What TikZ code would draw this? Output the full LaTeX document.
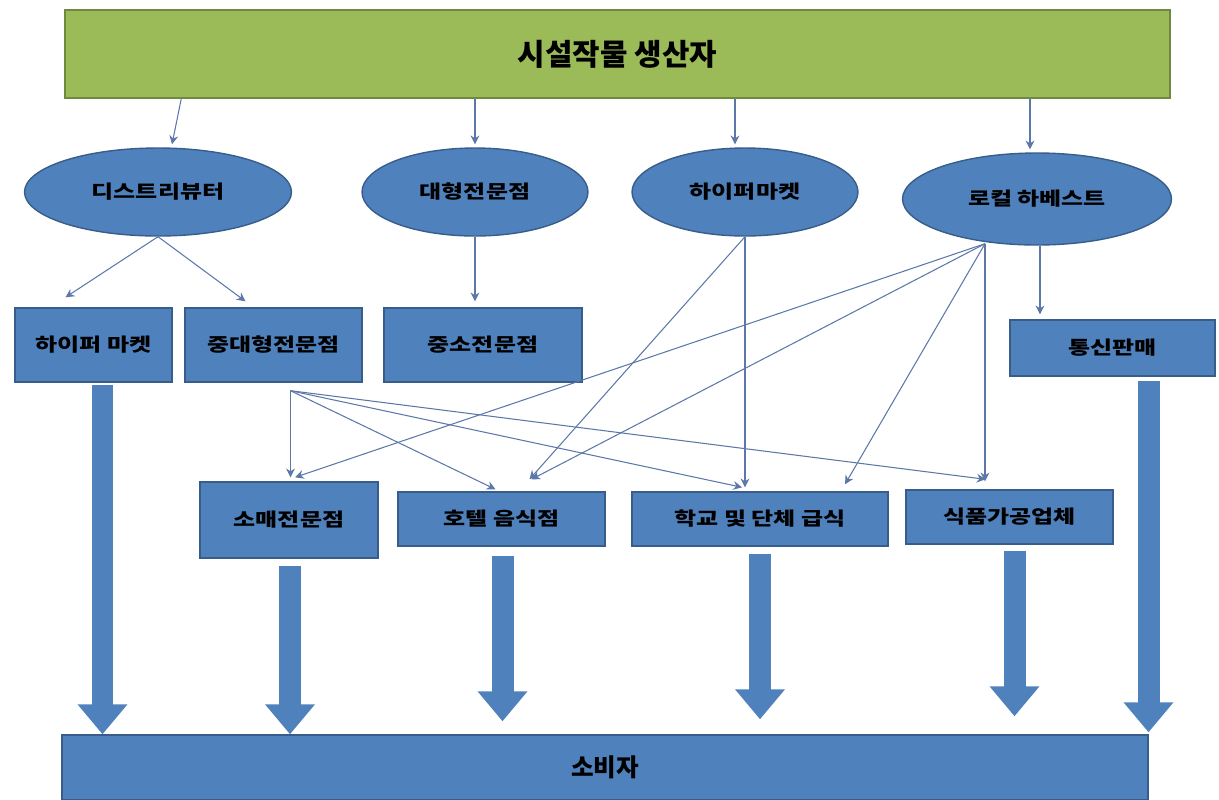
\documentclass[tikz,border=0pt]{standalone}
\usepackage{fontspec}
\setmainfont{Noto Sans CJK KR}
\newfontfamily\krwide[FakeStretch=1.3]{Noto Sans CJK KR}
\usetikzlibrary{shapes.geometric,arrows.meta,calc}

\definecolor{barGreen}{HTML}{9BBB59}
\definecolor{barEdge}{HTML}{71893F}
\definecolor{boxBlue}{HTML}{4F81BD}
\definecolor{boxEdge}{HTML}{385D8A}
\definecolor{flowLine}{HTML}{5B78A8}

\tikzset{
  unit/.style={draw=boxEdge, line width=0.8pt, fill=boxBlue, inner sep=0pt,
    text=black, font=\krwide\bfseries\fontsize{10.5}{12}\selectfont},
  oval/.style={unit, ellipse},
  flow/.style={draw=flowLine, line width=0.6pt, -{Stealth[length=5pt,width=5pt]}},
  bigarrow/.style={draw=boxBlue, line width=0.44cm, -{Triangle[width=0.96cm,length=0.6cm]}}
}

\begin{document}
\begin{tikzpicture}[x=0.02cm, y=-0.02cm]
  \useasboundingbox (0,0) rectangle (1219,799);

  % producer on top
  \node[draw=barEdge, line width=1pt, fill=barGreen, minimum width=22.1cm, minimum height=1.76cm,
    font=\bfseries\fontsize{17}{20}\selectfont] (top) at (617.5,54) {시설작물 생산자};

  % first channel
  \node[oval, minimum width=5.34cm, minimum height=1.76cm] (e1) at (158,192) {디스트리뷰터};
  \node[oval, minimum width=4.52cm, minimum height=1.76cm] (e2) at (475,192) {대형전문점};
  \node[oval, minimum width=4.52cm, minimum height=1.76cm] (e3) at (745,192) {하이퍼마켓};
  \node[oval, minimum width=5.38cm, minimum height=1.84cm] (e4) at (1037,199) {로컬 하베스트};

  % second channel
  \node[unit, minimum width=3.14cm, minimum height=1.48cm] (b1) at (93.5,345) {하이퍼 마켓};
  \node[unit, minimum width=3.54cm, minimum height=1.48cm] (b2) at (273.5,345) {중대형전문점};
  \node[unit, minimum width=3.96cm, minimum height=1.48cm] (b3) at (483,345) {중소전문점};
  \node[unit, minimum width=4.10cm, minimum height=1.12cm] (b4) at (1112.5,348) {통신판매};

  % third channel
  \node[unit, minimum width=3.56cm, minimum height=1.52cm] (c1) at (289,520) {소매전문점};
  \node[unit, minimum width=4.14cm, minimum height=1.08cm] (c2) at (501.5,519) {호텔 음식점};
  \node[unit, minimum width=5.12cm, minimum height=1.08cm] (c3) at (760,519) {학교 및 단체 급식};
  \node[unit, minimum width=4.14cm, minimum height=1.08cm] (c4) at (1009.5,517) {식품가공업체};

  % consumer
  \node[unit, minimum width=21.72cm, minimum height=1.3cm,
    font=\bfseries\fontsize{14}{16}\selectfont] (cons) at (605,767.5) {소비자};

  % producer to first channel
  \draw[flow] ($(top.south west)+(117,0)$) -- ($(e1.north)+(14,-3)$);
  \draw[flow] (e2.north |- top.south) -- ($(e2.north)+(0,-3)$);
  \draw[flow] ($(e3.north |- top.south)+(-10,0)$) -- ($(e3.north)+(-10,-3)$);
  \draw[flow] ($(e4.north |- top.south)+(-7,0)$) -- ($(e4.north)+(-7,-3)$);

  % first channel down
  \draw[flow] (e1.south) -- ($(b1.north)+(-28,-10)$);
  \draw[flow] (e1.south) -- ($(b2.north)+(-28,-6)$);
  \draw[flow] (e2.south) -- ($(e2.south |- b3.north)+(0,-6)$);
  \draw[flow] (e3.south) -- ($(e3.south |- c3.north)+(0,-4)$);
  \draw[flow] (e3.south) -- ($(c2.north)+(28,-12)$);
  \draw[flow] ($(e4.south)+(3,0)$) -- ($(e4.south |- b4.north)+(3,-5)$);

  \coordinate (lh) at ($(e4.south)+(-52,-2)$);
  \draw[flow] (lh) -- ($(c1.north)+(6,-4)$);
  \draw[flow] (lh) -- ($(c2.north)+(30,-12)$);
  \draw[flow] (lh) -- ($(c3.north)+(85,-7)$);
  \draw[flow] (lh) -- ($(lh |- c4.north)+(0,-8)$);

  % wholesale fan-out
  \coordinate (hub) at ($(b2.south)+(17,8)$);
  \draw[flow] (hub) -- ($(hub |- c1.north)+(0,-4)$);
  \draw[flow] (hub) -- ($(c2.north)+(-6,-2)$);
  \draw[flow] (hub) -- ($(c3.north)+(-18,-4)$);
  \draw[flow] (hub) -- ($(c4.north)+(-24,-10)$);

  % supply to consumer
  \draw[bigarrow] ($(b1.south)+(9,2)$) -- ($(b1.south |- cons.north)+(9,0)$);
  \draw[bigarrow] ($(c1.south)+(1,7)$) -- ($(c1.south |- cons.north)+(1,0)$);
  \draw[bigarrow] ($(c2.south)+(1,9)$) -- ($(c2.south |- cons.north)+(1,-13)$);
  \draw[bigarrow] ($(c3.south)+(0,7)$) -- ($(c3.south |- cons.north)+(0,-15)$);
  \draw[bigarrow] ($(c4.south)+(5,6)$) -- ($(c4.south |- cons.north)+(5,-18)$);
  \draw[bigarrow] ($(b4.south)+(36,4)$) -- ($(b4.south |- cons.north)+(36,-2)$);
\end{tikzpicture}
\end{document}
